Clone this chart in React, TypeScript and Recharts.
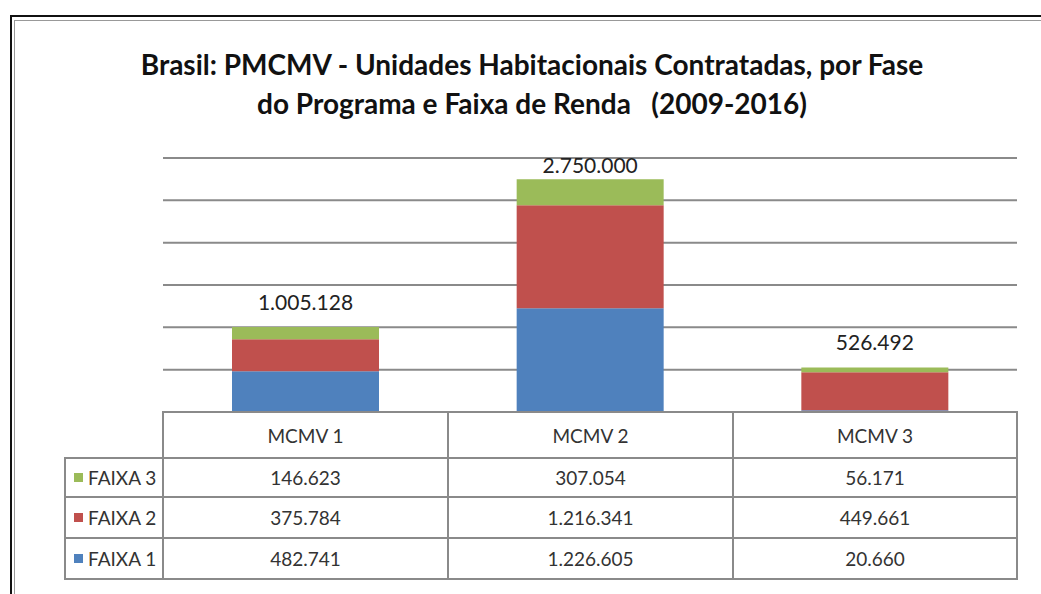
import React from "react"
import { BarChart, Bar, XAxis, YAxis, CartesianGrid, LabelList } from "recharts"

const categories = ["MCMV 1", "MCMV 2", "MCMV 3"]
const faixa1 = [482741, 1226605, 20660]
const faixa2 = [375784, 1216341, 449661]
const faixa3 = [146623, 307054, 56171]
const totalLabels = ["1.005.128", "2.750.000", "526.492"]
const yTicks = [0, 500000, 1000000, 1500000, 2000000, 2500000, 3000000]

const series = [
  { key: "faixa3", name: "FAIXA 3", color: "#9BBB59", values: faixa3 },
  { key: "faixa2", name: "FAIXA 2", color: "#C0504D", values: faixa2 },
  { key: "faixa1", name: "FAIXA 1", color: "#4F81BD", values: faixa1 },
]

const data = categories.map((c, i) => ({
  name: c,
  faixa1: faixa1[i],
  faixa2: faixa2[i],
  faixa3: faixa3[i],
}))

// pt-BR thousands separator
const fmt = (v: number) => v.toLocaleString("pt-BR")

const font = "Lato, 'Noto Sans', sans-serif"
const border = "2px solid #8a8a8a"

const TotalLabel = (props: any) => {
  const { x, y, width, index } = props
  const ty = Math.max(y - 17, 173)
  return (
    <text x={x + width / 2} y={ty} textAnchor="middle" fontSize={21} fontFamily={font} fill="#222">
      {totalLabels[index]}
    </text>
  )
}

function DataTable() {
  const cols = [163, 448, 733, 1017]
  const rowTop = [412, 458, 497, 538, 579]
  const cell = (left: number, top: number, w: number, h: number, content: React.ReactNode, key: string, align = "center") => (
    <div
      key={key}
      style={{
        position: "absolute",
        left,
        top,
        width: w,
        height: h,
        boxSizing: "border-box",
        border,
        marginLeft: -1,
        marginTop: -1,
        display: "flex",
        alignItems: "center",
        justifyContent: align,
        fontFamily: font,
        fontSize: 19,
        color: "#333",
      }}
    >
      {content}
    </div>
  )
  const cells: React.ReactNode[] = []
  categories.forEach((c, i) => {
    cells.push(cell(cols[i], rowTop[0], cols[i + 1] - cols[i] + 2, rowTop[1] - rowTop[0] + 2, c, `h${i}`))
  })
  series.forEach((s, r) => {
    cells.push(
      cell(
        65,
        rowTop[r + 1],
        cols[0] - 65 + 2,
        rowTop[r + 2] - rowTop[r + 1] + 2,
        <span style={{ display: "flex", alignItems: "center", paddingLeft: 8 }}>
          <span style={{ width: 9, height: 9, background: s.color, marginRight: 5, display: "inline-block" }} />
          {s.name}
        </span>,
        `l${r}`,
        "flex-start"
      )
    )
    categories.forEach((_, i) => {
      cells.push(cell(cols[i], rowTop[r + 1], cols[i + 1] - cols[i] + 2, rowTop[r + 2] - rowTop[r + 1] + 2, fmt(s.values[i]), `c${r}${i}`))
    })
  })
  return <>{cells}</>
}

export default function App() {
  return (
    <div style={{ position: "fixed", left: 0, top: 0, width: 1041, height: 594, overflow: "hidden", background: "#fff" }}>
      <style>{"html,body{margin:0;overflow:hidden}"}</style>
      {/* outer frame: only top and left edges are visible in the crop */}
      <div style={{ position: "absolute", left: 10, top: 15, width: 1031, height: 2, background: "#111" }} />
      <div style={{ position: "absolute", left: 10, top: 15, width: 2, height: 579, background: "#111" }} />
      <div style={{ position: "absolute", left: 14, top: 20, width: 1027, height: 1, background: "#999" }} />
      <div style={{ position: "absolute", left: 14, top: 20, width: 1, height: 574, background: "#999" }} />
      <div
        style={{
          position: "absolute",
          left: 0,
          width: 1064,
          top: 45,
          textAlign: "center",
          fontFamily: font,
          fontWeight: 700,
          fontSize: 28,
          lineHeight: "39px",
          color: "#111",
          whiteSpace: "pre",
        }}
      >
        {"Brasil: PMCMV - Unidades Habitacionais Contratadas, por Fase\ndo Programa e Faixa de Renda   (2009-2016)"}
      </div>
      <div style={{ position: "absolute", left: 0, top: 0 }}>
        <BarChart width={1041} height={594} data={data} margin={{ top: 158, right: 24, bottom: 182, left: 163 }} barCategoryGap={69}>
          <CartesianGrid vertical={false} stroke="#8a8a8a" strokeWidth={2} />
          <XAxis dataKey="name" hide />
          <YAxis hide domain={[0, 3000000]} ticks={yTicks} />
          <Bar dataKey="faixa1" stackId="a" fill="#4F81BD" isAnimationActive={false} />
          <Bar dataKey="faixa2" stackId="a" fill="#C0504D" isAnimationActive={false} />
          <Bar dataKey="faixa3" stackId="a" fill="#9BBB59" isAnimationActive={false}>
            <LabelList dataKey="faixa3" content={TotalLabel} />
          </Bar>
        </BarChart>
      </div>
      <DataTable />
    </div>
  )
}
